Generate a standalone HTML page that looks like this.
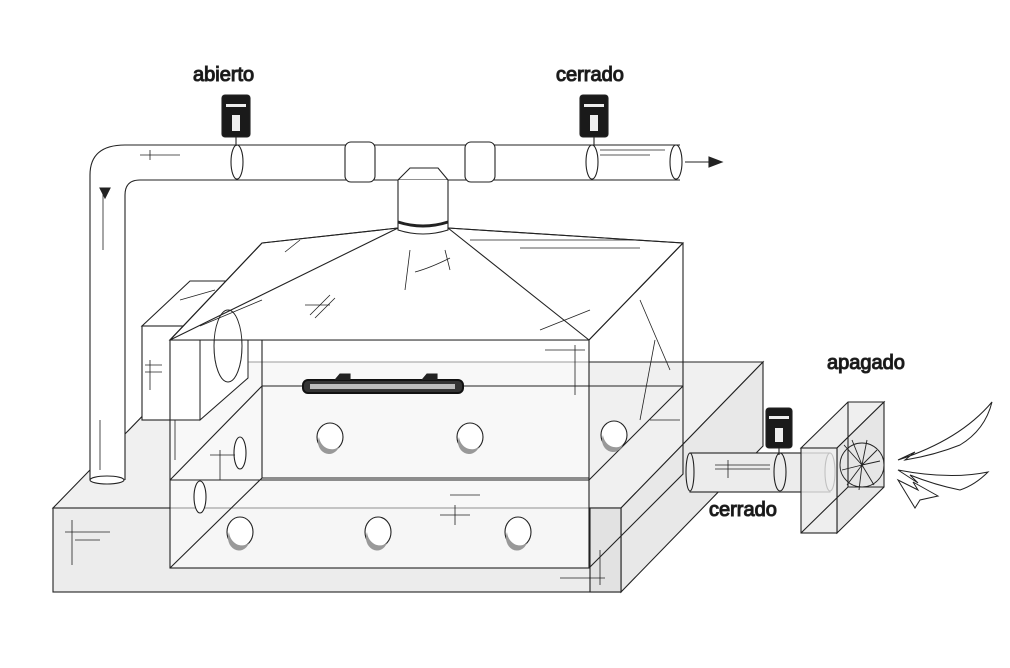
<!DOCTYPE html>
<html><head><style>body{margin:0;background:#fff}svg{display:block}text{font-family:"Liberation Sans",sans-serif;font-size:20px;fill:#111;font-weight:normal}</style></head><body>
<svg width="1010" height="668" viewBox="0 0 1010 668" fill="none" stroke="#222" stroke-width="1.1">
<!-- base slab -->
<polygon points="53,508 195,362 763,362 621,508" fill="#f0f0f0"/>
<polygon points="621,508 763,362 763,446 621,592" fill="#e8e8e8"/>
<rect x="53" y="508" width="568" height="84" fill="#ececec"/>
<rect x="590" y="508" width="31" height="84" fill="#e2e2e2"/>
<!-- left small box -->
<polygon points="142,326 190,281 248,281 200,326" fill="#fff"/>
<polygon points="200,326 248,281 248,378 200,420" fill="#fff"/>
<rect x="142" y="326" width="58" height="94" fill="#fff"/>
<ellipse cx="228" cy="346" rx="14" ry="36" fill="#fff"/>
<!-- left vertical pipe -->
<rect x="90" y="175" width="35" height="305" fill="#fff" stroke="none"/>
<path d="M90,480 V175 Q90,145 125,145 H680 M125,480 V195 Q125,180 140,180 H680"/>
<ellipse cx="107" cy="480" rx="17" ry="4" fill="#fff"/>
<path d="M103,190 V250 M100,420 V470" stroke-width="0.8"/>
<path d="M105,198 l-5,-10 h10 z" fill="#222"/>
<!-- box enclosure -->
<rect x="170" y="340" width="419" height="228" fill="rgba(255,255,255,0.55)"/>
<path d="M262,243 V478 H589 M262,386 H683 V243 M170,480 L262,386 M589,480 L683,386 M170,568 L262,478 M170,480 H589 M589,568 L683,474 V386"/>
<polygon points="262,243 398,228 448,228 683,243 589,340 170,340" fill="#fff"/>
<path d="M262,243 L170,340 H589 L683,243 M398,228 L170,340 M448,228 L589,340"/>
<path d="M262,243 L398,228 M448,228 L683,243"/>
<!-- small box seen through -->
<path d="M200,340 V420 H170 M248,340 V378 L200,420" stroke-width="0.9"/>
<ellipse cx="228" cy="346" rx="14" ry="36" stroke-width="0.9"/>
<path d="M200,326 L262,300" stroke-width="0.8"/>
<!-- collar and T -->
<path d="M398,180 V230 Q423,238 448,230 V180" fill="#fff"/>
<path d="M398,222 Q423,230 448,222" stroke-width="3"/>
<path d="M398,180 L410,168 H438 L448,180"/>
<path d="M410,250 L405,290 M445,250 L450,270 M415,272 Q430,268 450,258" stroke-width="0.8"/>
<!-- horizontal pipe details -->
<ellipse cx="237" cy="162" rx="6" ry="17"/>
<rect x="345" y="142" width="30" height="40" rx="6" fill="#fff"/>
<rect x="465" y="142" width="30" height="40" rx="6" fill="#fff"/>
<ellipse cx="592" cy="162" rx="6" ry="17"/>
<ellipse cx="676" cy="162" rx="6" ry="17"/>
<path d="M685,162 H710"/><path d="M722,162 l-13,-5 v10 z" fill="#222"/>
<path d="M140,155 H180 M150,150 V160 M600,150 H665 M600,155 H650" stroke-width="0.8"/>
<!-- valves top -->
<rect x="222" y="95" width="28" height="42" rx="3" fill="#1a1a1a"/>
<rect x="226" y="104" width="20" height="3" fill="#eee" stroke="none"/>
<rect x="232" y="115" width="8" height="16" fill="#eee" stroke="none"/>
<path d="M236,137 V146"/>
<rect x="580" y="95" width="28" height="42" rx="3" fill="#1a1a1a"/>
<rect x="584" y="104" width="20" height="3" fill="#eee" stroke="none"/>
<rect x="590" y="115" width="8" height="16" fill="#eee" stroke="none"/>
<path d="M594,137 V146"/>
<text x="193" y="81">abierto</text>
<text x="556" y="81">cerrado</text>
<!-- lamp -->
<rect x="303" y="380" width="160" height="13" rx="5" fill="#333" stroke="#111" stroke-width="2"/>
<rect x="310" y="384" width="145" height="5" fill="#bbb" stroke="none"/>
<path d="M335,380 l5,-6 h10 v6 M422,380 l5,-6 h10 v6" fill="#222"/>
<!-- holes -->
<g fill="#fff" stroke="#222">
<ellipse cx="330" cy="437" rx="13" ry="14"/><ellipse cx="470" cy="437" rx="13" ry="14"/><ellipse cx="614" cy="435" rx="13" ry="14"/>
<ellipse cx="240" cy="532" rx="13" ry="15"/><ellipse cx="378" cy="532" rx="13" ry="15"/><ellipse cx="518" cy="532" rx="13" ry="15"/>
<ellipse cx="240" cy="453" rx="6" ry="16"/><ellipse cx="200" cy="497" rx="6" ry="16"/>
</g>
<g fill="#999" stroke="none">
<path d="M319,437 a11,12 0 0 0 20,10 a13,14 0 0 1 -20,-10z"/><path d="M459,437 a11,12 0 0 0 20,10 a13,14 0 0 1 -20,-10z"/><path d="M603,435 a11,12 0 0 0 20,10 a13,14 0 0 1 -20,-10z"/>
<path d="M229,532 a11,13 0 0 0 20,11 a13,15 0 0 1 -20,-11z"/><path d="M367,532 a11,13 0 0 0 20,11 a13,15 0 0 1 -20,-11z"/><path d="M507,532 a11,13 0 0 0 20,11 a13,15 0 0 1 -20,-11z"/>
</g>
<!-- scribbles -->
<g stroke-width="0.8">
<path d="M65,532 H110 M72,520 V565 M75,540 H100 M450,495 H480 M455,505 V525 M440,515 H470 M560,578 H605 M600,550 V585 M545,350 H585 M575,345 V395 M150,360 V390 M145,365 H162 M145,372 H162 M310,315 L330,295 M315,318 L335,298 M305,305 H330 M540,330 L590,310 M640,300 L670,370 M655,340 L640,420 M650,420 H680 M470,240 H640 M520,248 H640 M285,252 L300,240 M180,300 L215,290 M175,420 V460 M210,455 H235 M220,450 V480"/>
</g>
<!-- right pipe and fan -->
<rect x="690" y="453" width="140" height="39" fill="#ececec"/>
<ellipse cx="690" cy="472" rx="4" ry="19" fill="#ececec"/>
<ellipse cx="830" cy="472" rx="5" ry="19" fill="#fff"/>
<ellipse cx="780" cy="472" rx="6" ry="19"/>
<path d="M715,465 H770 M715,469 H770 M728,460 V478" stroke-width="0.8"/>
<rect x="766" y="408" width="26" height="40" rx="3" fill="#1a1a1a"/>
<rect x="769" y="416" width="20" height="3" fill="#eee" stroke="none"/>
<rect x="775" y="428" width="8" height="14" fill="#eee" stroke="none"/>
<path d="M779,448 V455"/>
<polygon points="801,448 848,402 884,402 837,448" fill="#efefef"/>
<polygon points="837,448 884,402 884,487 837,533" fill="#e6e6e6"/>
<rect x="801" y="448" width="36" height="85" fill="#eaeaea" fill-opacity="0.8"/>
<path d="M801,533 L848,487 H884 M848,402 V487"/>
<g stroke-width="0.9"><circle cx="862" cy="465" r="22"/>
<path d="M862,465 l-18,-20 M862,465 l-10,-25 M862,465 l5,-25 M862,465 l15,-15 M862,465 l-20,5 M862,465 l-15,20 M862,465 l-3,25 M862,465 l12,20 M862,465 l18,-4"/></g>
<text x="709" y="516">cerrado</text>
<text x="827" y="369">apagado</text>
<!-- wind arrows -->
<g stroke-width="1" fill="#fff">
<path d="M898,460 Q960,440 992,402 Q985,430 960,445 Q935,455 905,460 l10,-8 z"/>
<path d="M898,470 Q950,480 988,472 Q975,485 960,490 Q935,485 910,475 l8,8 z"/>
<path d="M898,480 l20,10 l-5,-8 l25,14 l-18,4 l-5,8 z"/>
</g>
</svg>
</body></html>
